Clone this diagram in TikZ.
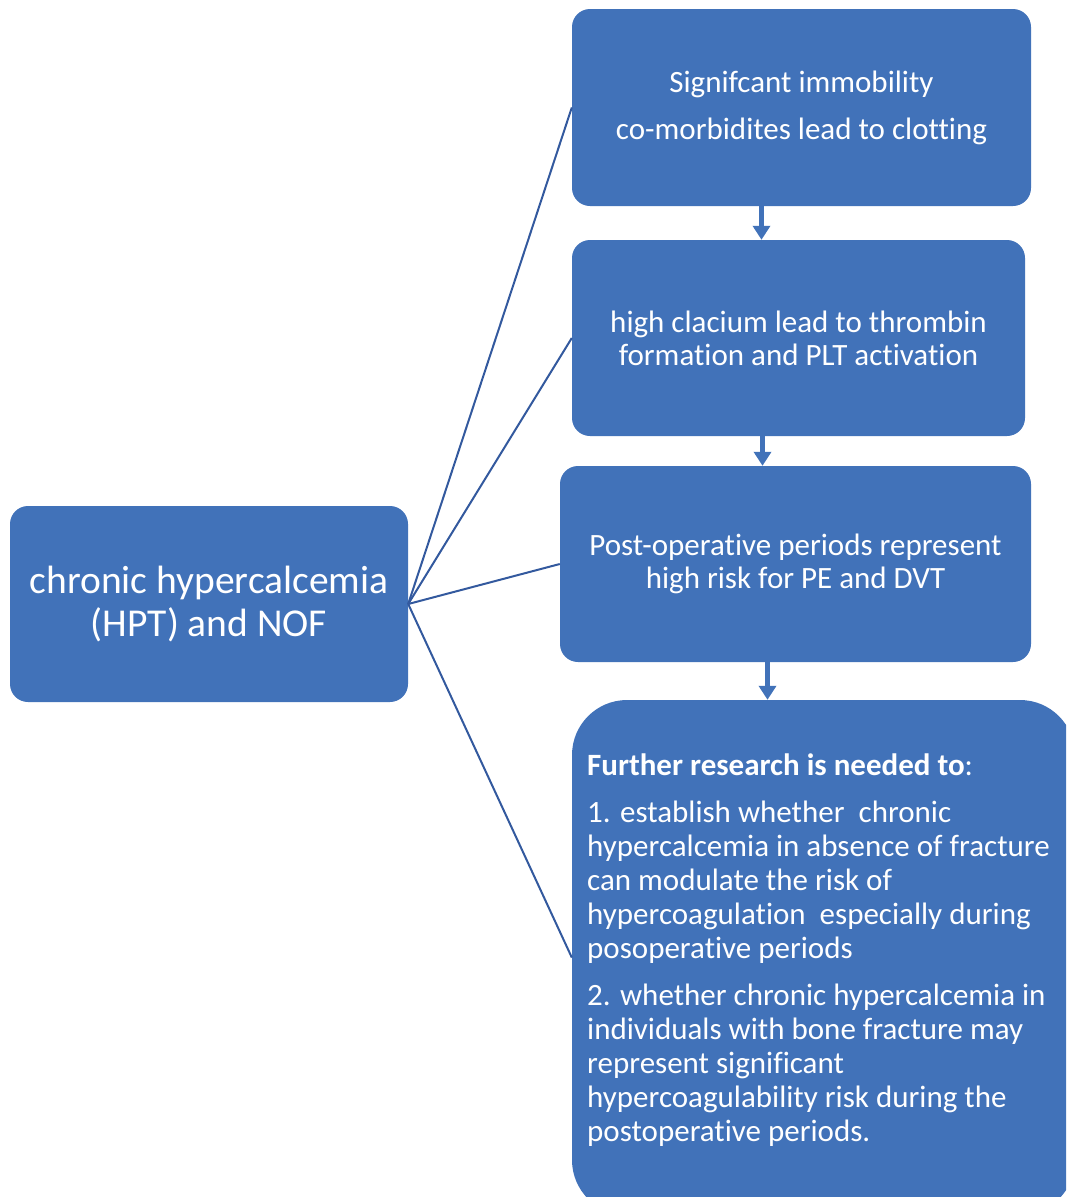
\documentclass[tikz,border=0pt]{standalone}
\usepackage{fontspec}
\setmainfont[Ligatures=NoCommon]{Carlito}
\usetikzlibrary{arrows.meta,calc}
\definecolor{BoxClr}{rgb}{0.255,0.447,0.725}
\definecolor{LinkClr}{rgb}{0.20,0.35,0.62}

\begin{document}
\begin{tikzpicture}[x=1pt,y=-1pt]
\tikzset{box/.style={fill=BoxClr,rounded corners=18pt,text=white,align=center,inner sep=0pt},
  link/.style={LinkClr,line width=2pt},
  flow/.style={BoxClr,line width=5pt,-{Triangle[width=17pt,length=14pt]}}}

\useasboundingbox (0,0) rectangle (1066,1197);
\clip (0,0) rectangle (1066,1197);

% left box
\node[box,minimum width=398pt,minimum height=196pt,font=\fontsize{39.5}{43}\selectfont]
  (hpt) at (209,604) {chronic hypercalcemia\\(HPT) and NOF};

% right column
\node[box,minimum width=459pt,minimum height=197pt,font=\fontsize{31}{33}\selectfont]
  (immob) at (801.5,107.5) {Signifcant immobility\\[14pt]co-morbidites lead to clotting};
\node[box,minimum width=453pt,minimum height=196pt,font=\fontsize{31}{33}\selectfont]
  (calc) at (798.5,338) {high clacium lead to thrombin\\formation and PLT activation};
\node[box,minimum width=471pt,minimum height=196pt,font=\fontsize{31}{33}\selectfont]
  (postop) at (795.5,564) {Post-operative periods represent\\high risk for PE and DVT};
\node[box,rounded corners=55pt,minimum width=503pt,minimum height=515pt]
  (research) at (823.5,957.5) {};
\node[anchor=north west,inner sep=0pt,align=left,text=white,font=\fontsize{31}{34}\selectfont]
  (resText) at (587,754) {\textbf{Further research is needed to}:\\[13pt]
  1. establish whether~ chronic\\
  hypercalcemia in absence of fracture\\
  can modulate the risk of\\
  hypercoagulation~ especially during\\
  posoperative periods\\[13pt]
  2. whether chronic hypercalcemia in\\
  individuals with bone fracture may\\
  represent significant\\
  hypercoagulability risk during the\\
  postoperative periods.};

% links
\draw[link] (hpt.east) -- (immob.west);
\draw[link] (hpt.east) -- (calc.west);
\draw[link] (hpt.east) -- (postop.west);
\draw[link] (hpt.east) -- (research.west);

% arrows
\draw[flow] ($(immob.south)+(-40,0)$) -- ($(calc.north)+(-37,0)$);
\draw[flow] ($(calc.south)+(-36,0)$) -- ($(postop.north)+(-33,0)$);
\draw[flow] ($(postop.south)+(-28,0)$) -- ($(research.north)+(-56,0)$);

\end{tikzpicture}
\end{document}
